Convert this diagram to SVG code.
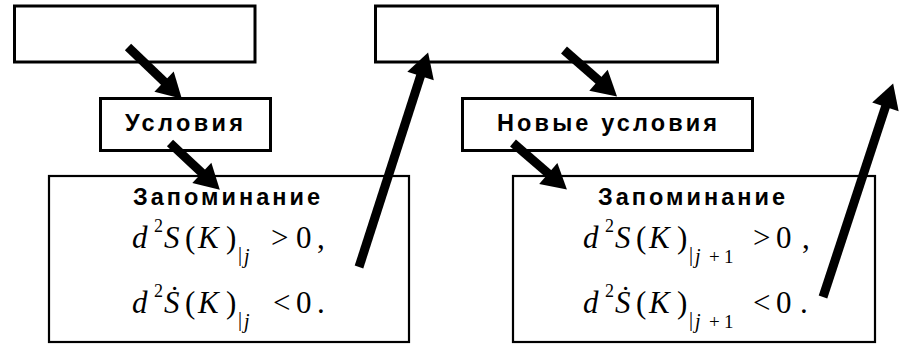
<svg xmlns="http://www.w3.org/2000/svg" width="900" height="345" viewBox="0 0 900 345">
<style>
  .box { fill: #fff; stroke: #000; }
  .thick { stroke-width: 3; }
  .thin { stroke-width: 2.2; }
  .lbl { font-family: "Liberation Sans", Arial, sans-serif; font-weight: bold; fill: #000; }
  .f { font-family: "Liberation Serif", "Times New Roman", serif; fill: #000; }
  .i { font-style: italic; }
  .arr { stroke: #000; stroke-width: 9; fill: none; marker-end: url(#head); }
</style>
<defs>
  <marker id="head" markerUnits="userSpaceOnUse" markerWidth="30" markerHeight="30" viewBox="0 -14 24 28" refX="2" refY="0" orient="auto">
    <path d="M0,-13 L23,0 L0,13 Z" fill="#000"/>
  </marker>
</defs>

<g id="top-left">
  <rect class="box thick" x="14.5" y="6" width="240.5" height="56"/>
</g>
<g id="top-middle">
  <rect class="box thick" x="375.5" y="6" width="342" height="56"/>
</g>
<g id="conditions">
  <rect class="box thick" x="100.5" y="98.5" width="170" height="52"/>
  <text class="lbl" font-size="23.5" x="125" y="131" textLength="118" lengthAdjust="spacing">Условия</text>
</g>
<g id="new-conditions">
  <rect class="box thick" x="462.5" y="98.5" width="290" height="52"/>
  <text class="lbl" font-size="23.5" x="497" y="131" textLength="220" lengthAdjust="spacing">Новые условия</text>
</g>
<g id="memory-left">
  <rect class="box thin" x="49" y="176" width="360" height="166"/>
  <text class="lbl" font-size="23.5" x="133" y="205" textLength="187" lengthAdjust="spacing">Запоминание</text>
  <text class="f" font-size="31">
    <tspan class="i" x="132" y="248">d</tspan><tspan font-size="18" x="154" y="232">2</tspan><tspan class="i" x="164" y="248">S</tspan><tspan x="185" y="248">(</tspan><tspan class="i" x="198" y="248">K</tspan><tspan x="226" y="248">)</tspan><tspan font-size="20" x="238" y="261">|</tspan><tspan class="i" font-size="20" x="244" y="263">j</tspan><tspan x="271" y="248">&gt;</tspan><tspan x="296" y="248">0</tspan><tspan x="317" y="248">,</tspan>
  </text>
  <text class="f" font-size="31">
    <tspan class="i" x="132" y="313">d</tspan><tspan font-size="18" x="154" y="297">2</tspan><tspan class="i" x="164" y="313">Ṡ</tspan><tspan x="185" y="313">(</tspan><tspan class="i" x="198" y="313">K</tspan><tspan x="226" y="313">)</tspan><tspan font-size="20" x="238" y="326">|</tspan><tspan class="i" font-size="20" x="244" y="328">j</tspan><tspan x="273" y="313">&lt;</tspan><tspan x="296" y="313">0</tspan><tspan x="317" y="313">.</tspan>
  </text>
</g>
<g id="memory-right">
  <rect class="box thin" x="513" y="176" width="362" height="166"/>
  <text class="lbl" font-size="23.5" x="598" y="205" textLength="187" lengthAdjust="spacing">Запоминание</text>
  <text class="f" font-size="31">
    <tspan class="i" x="583" y="248">d</tspan><tspan font-size="18" x="605" y="232">2</tspan><tspan class="i" x="615" y="248">S</tspan><tspan x="636" y="248">(</tspan><tspan class="i" x="649" y="248">K</tspan><tspan x="677" y="248">)</tspan><tspan font-size="20" x="689" y="261">|</tspan><tspan class="i" font-size="20" x="695" y="263">j</tspan><tspan font-size="19" x="709" y="263">+</tspan><tspan font-size="19" x="724" y="263">1</tspan><tspan x="753" y="248">&gt;</tspan><tspan x="776" y="248">0</tspan><tspan x="802" y="248">,</tspan>
  </text>
  <text class="f" font-size="31">
    <tspan class="i" x="583" y="313">d</tspan><tspan font-size="18" x="605" y="297">2</tspan><tspan class="i" x="615" y="313">Ṡ</tspan><tspan x="636" y="313">(</tspan><tspan class="i" x="649" y="313">K</tspan><tspan x="677" y="313">)</tspan><tspan font-size="20" x="689" y="326">|</tspan><tspan class="i" font-size="20" x="695" y="328">j</tspan><tspan font-size="19" x="709" y="328">+</tspan><tspan font-size="19" x="724" y="328">1</tspan><tspan x="753" y="313">&lt;</tspan><tspan x="776" y="313">0</tspan><tspan x="800" y="313">.</tspan>
  </text>
</g>

<g id="connectors">
  <line class="arr" x1="128" y1="47" x2="165.6" y2="83.1"/>
  <line class="arr" x1="170" y1="143" x2="203.4" y2="174.3"/>
  <line class="arr" x1="359" y1="267" x2="421.2" y2="73.9"/>
  <line class="arr" x1="564" y1="50" x2="600.1" y2="81.6"/>
  <line class="arr" x1="513" y1="143" x2="549.9" y2="174.9"/>
  <line class="arr" x1="823" y1="297" x2="886.1" y2="104.9"/>
</g>
</svg>
